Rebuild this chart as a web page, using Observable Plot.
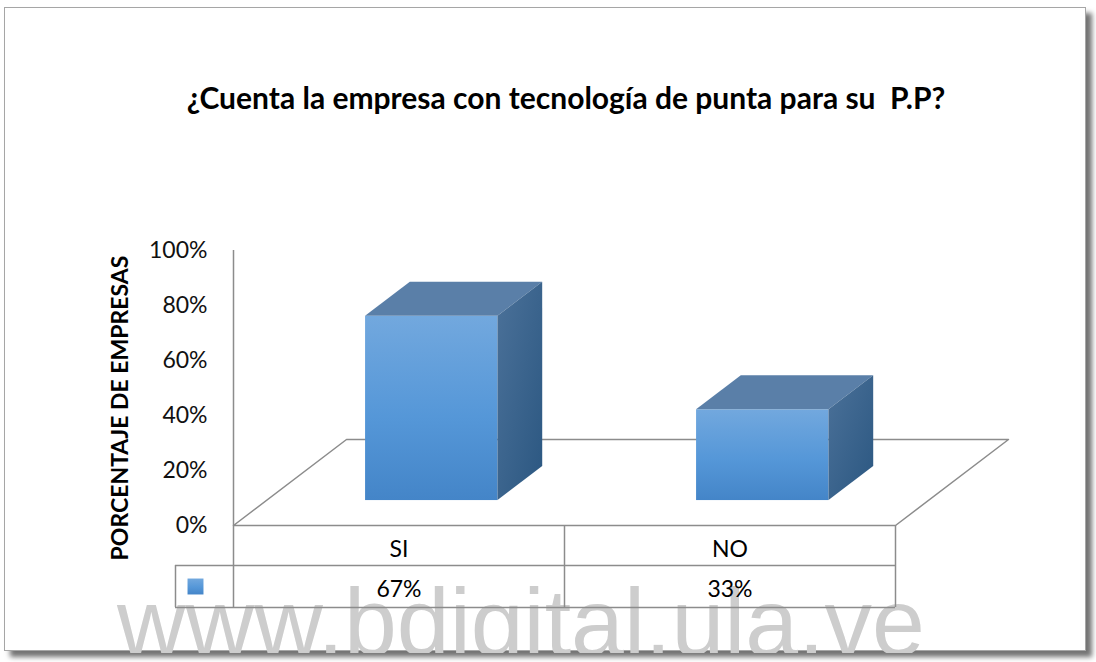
<!DOCTYPE html>
<html>
<head>
<meta charset="utf-8">
<script src="https://cdn.jsdelivr.net/npm/d3@7"></script>
<script src="https://cdn.jsdelivr.net/npm/@observablehq/plot@0.6"></script>
<style>
  body { margin: 0; background: #fff; }
  #wrap { position: relative; width: 1096px; height: 662px; overflow: hidden; background: #fff; }
  #frame { position: absolute; left: 4px; top: 7px; width: 1080px; height: 642px; border: 1px solid #a6a6a6; box-shadow: 6px 6px 5px rgba(0,0,0,0.55); background: #fff; }
  #wm { position: absolute; left: 117px; top: 575px; font: 95px "Liberation Sans", Arial, sans-serif; color: #cdcdcd; white-space: nowrap; line-height: 1; }
  #clip { position: absolute; left: 0; top: 0; width: 1085px; height: 653px; overflow: hidden; }
  #title { position: relative; height: 194px; display: flex; align-items: center; justify-content: center; font: bold 30px Lato, sans-serif; color: #000; box-sizing: border-box; margin-left: 36px; }
  #chart { position: relative; }
</style>
</head>
<body>
<div id="wrap">
  <div id="frame"></div>
  <div id="clip"><div id="wm">www.bdigital.ula.ve</div></div>
  <div id="title">¿Cuenta la empresa con tecnología de punta para su &nbsp;P.P?</div>
  <div id="chart"></div>
</div>
<script>
// ---- data ----
const categories = ["SI", "NO"];
const values = [0.67, 0.33];
const valueLabels = ["67%", "33%"];
const yTicks = [0, 0.2, 0.4, 0.6, 0.8, 1.0];
const yTitle = "PORCENTAJE DE EMPRESAS";

// ---- layout ----
const W = 1096, H = 468;
const mL = 233, mR = 201, mT = 56, mB = 137;
const xDomain = [-0.5, categories.length - 0.5];
const xUnitPx = (W - mL - mR) / (xDomain[1] - xDomain[0]);
const yUnitPx = (H - mT - mB) / 1;
// 3D depth projection (pixels of full floor depth) converted into data units
const kx = 113 / xUnitPx, ky = 86 / yUnitPx;
const z0 = 0.29, z1 = 0.686, halfW = 0.2;
const row1 = 40 / yUnitPx, row2 = 82 / yUnitPx;
const legendLeft = xDomain[0] - 58 / xUnitPx;
const legendMid = xDomain[0] - 38 / xUnitPx;

const bars = categories.map((c, i) => ({c, i, v: values[i], label: valueLabels[i]}));

const floorPts = [
  {x: xDomain[0], y: 0},
  {x: xDomain[0] + kx, y: ky},
  {x: xDomain[1] + kx, y: ky},
  {x: xDomain[1], y: 0},
  {x: xDomain[0], y: 0}
];

const frontFaces = bars.map(b => ({
  c: b.c,
  x1: b.i - halfW + z0 * kx, x2: b.i + halfW + z0 * kx,
  y1: z0 * ky, y2: b.v + z0 * ky
}));
const topFaces = bars.flatMap(b => [
  {c: b.c, y: b.v + z0 * ky, x1: b.i - halfW + z0 * kx, x2: b.i + halfW + z0 * kx},
  {c: b.c, y: b.v + z1 * ky, x1: b.i - halfW + z1 * kx, x2: b.i + halfW + z1 * kx}
]);
const sideFaces = bars.flatMap(b => [
  {c: b.c, x: b.i + halfW + z0 * kx, y1: z0 * ky, y2: b.v + z0 * ky},
  {c: b.c, x: b.i + halfW + z1 * kx, y1: z1 * ky, y2: b.v + z1 * ky}
]);

const gridColor = "#8c8c8c";

const chart = Plot.plot({
  width: W, height: H,
  marginLeft: mL, marginRight: mR, marginTop: mT, marginBottom: mB,
  style: {fontFamily: "Lato, sans-serif", fontSize: "22px", color: "#111", background: "transparent", overflow: "visible"},
  x: {type: "linear", domain: xDomain, axis: null},
  y: {type: "linear", domain: [0, 1], axis: null},
  marks: [
    Plot.line(floorPts, {x: "x", y: "y", stroke: gridColor, strokeWidth: 1.5, curve: "linear"}),
    Plot.ruleX([xDomain[0]], {y1: -row2, y2: 1, stroke: gridColor, strokeWidth: 1.5}),
    // table
    Plot.ruleY([-row1, -row2], {x1: legendLeft, x2: xDomain[1], stroke: gridColor, strokeWidth: 1.5}),
    Plot.ruleX([legendLeft], {y1: -row2, y2: -row1, stroke: gridColor, strokeWidth: 1.5}),
    Plot.ruleX(categories.map((c, i) => i + 0.5), {y1: -row2, y2: 0, stroke: gridColor, strokeWidth: 1.5}),
    Plot.text(bars, {x: "i", y: -row1 / 2, dy: 4, text: "c", fill: "#000", fontSize: 23}),
    Plot.text(bars, {x: "i", y: -(row1 + row2) / 2, dy: 3, text: "label", fill: "#000", fontSize: 23}),
    Plot.dot([0], {x: legendMid, y: -(row1 + row2) / 2, symbol: "square", r: 9, fill: "url(#gFront)", stroke: "none"}),
    // bars
    Plot.rect(frontFaces, {x1: "x1", x2: "x2", y1: "y1", y2: "y2", fill: "url(#gFront)"}),
    Plot.areaX(topFaces, {y: "y", x1: "x1", x2: "x2", z: "c", fill: "#5a7fa8", curve: "linear"}),
    Plot.areaY(sideFaces, {x: "x", y1: "y1", y2: "y2", z: "c", fill: "url(#gSide)", curve: "linear"}),
    // y axis
    Plot.axisY({ticks: yTicks, tickFormat: d => Math.round(d * 100) + "%", tickSize: 0, tickPadding: 26, fontSize: 23, label: null, x: xDomain[0]}),
    Plot.text([yTitle], {frameAnchor: "left", textAnchor: "middle", dx: -113, dy: 20, rotate: -90, fontWeight: "bold", fontSize: 23, fill: "#000"})
  ]
});

const svg = d3.select(chart);
const defs = svg.insert("defs", ":first-child");
const gf = defs.append("linearGradient").attr("id", "gFront").attr("x1", 0).attr("y1", 0).attr("x2", 0).attr("y2", 1);
gf.append("stop").attr("offset", 0).attr("stop-color", "#72a8de");
gf.append("stop").attr("offset", 0.55).attr("stop-color", "#5597d8");
gf.append("stop").attr("offset", 1).attr("stop-color", "#4485c8");
const gs = defs.append("linearGradient").attr("id", "gSide").attr("x1", 0).attr("y1", 0).attr("x2", 1).attr("y2", 1);
gs.append("stop").attr("offset", 0).attr("stop-color", "#4b7199");
gs.append("stop").attr("offset", 1).attr("stop-color", "#2b5781");

document.getElementById("chart").append(chart);
</script>
</body>
</html>
